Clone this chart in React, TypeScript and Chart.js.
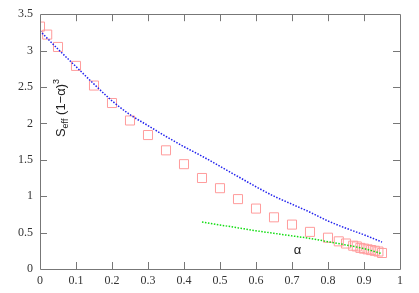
import React, { useEffect, useRef } from "react";
import { Chart, registerables } from "chart.js";

Chart.register(...registerables);

const simAlpha = [0, 0.02, 0.05, 0.1, 0.15, 0.2, 0.25, 0.3, 0.35, 0.4, 0.45, 0.5, 0.55, 0.6, 0.65, 0.7, 0.75, 0.8, 0.83, 0.85, 0.87, 0.88, 0.89, 0.9, 0.91, 0.92, 0.93, 0.94, 0.95];
const simValues = [3.33, 3.22, 3.05, 2.79, 2.52, 2.28, 2.04, 1.84, 1.63, 1.44, 1.25, 1.11, 0.96, 0.83, 0.71, 0.61, 0.51, 0.43, 0.38, 0.35, 0.32, 0.31, 0.29, 0.28, 0.27, 0.26, 0.25, 0.24, 0.22];

const blueAlpha = [0, 0.05, 0.1, 0.15, 0.2, 0.25, 0.3, 0.35, 0.4, 0.45, 0.5, 0.55, 0.6, 0.65, 0.7, 0.75, 0.8, 0.85, 0.9, 0.95];
const blueValues = [3.27, 3.02, 2.78, 2.54, 2.31, 2.12, 1.97, 1.82, 1.68, 1.55, 1.41, 1.27, 1.13, 1.0, 0.89, 0.78, 0.66, 0.56, 0.47, 0.37];

const greenAlpha = [0.45, 0.5, 0.55, 0.6, 0.65, 0.7, 0.75, 0.8, 0.85, 0.9, 0.95];
const greenValues = [0.645, 0.605, 0.565, 0.525, 0.49, 0.455, 0.42, 0.375, 0.33, 0.28, 0.21];

const xTicks = [0, 0.1, 0.2, 0.3, 0.4, 0.5, 0.6, 0.7, 0.8, 0.9, 1];
const yTicks = [0, 0.5, 1, 1.5, 2, 2.5, 3, 3.5];

const SERIF = "'Liberation Serif', 'Times New Roman', 'DejaVu Serif', serif";
const SANS = "'Liberation Sans', Arial, sans-serif";

const frame = {
  id: "frame",
  afterDraw(chart: any) {
    const { ctx, chartArea: a, scales } = chart;
    const xs = scales.x, ys = scales.y;
    ctx.save();
    ctx.strokeStyle = "#777";
    ctx.lineWidth = 1;
    ctx.beginPath();
    ctx.rect(Math.round(a.left) + 0.5, Math.round(a.top) + 0.5, Math.round(a.right - a.left), Math.round(a.bottom - a.top));
    ctx.stroke();
    const tl = 7;
    ctx.beginPath();
    xTicks.forEach((v, i) => {
      if (i === 0 || i === xTicks.length - 1) return;
      const px = Math.round(xs.getPixelForValue(v)) + 0.5;
      ctx.moveTo(px, a.bottom);
      ctx.lineTo(px, a.bottom - tl);
      ctx.moveTo(px, a.top);
      ctx.lineTo(px, a.top + tl);
    });
    yTicks.forEach((v, i) => {
      if (i === 0 || i === yTicks.length - 1) return;
      const py = Math.round(ys.getPixelForValue(v)) + 0.5;
      ctx.moveTo(a.left, py);
      ctx.lineTo(a.left + tl, py);
      ctx.moveTo(a.right, py);
      ctx.lineTo(a.right - tl, py);
    });
    ctx.stroke();

    // axis labels inside plot
    ctx.fillStyle = "#222";
    ctx.textBaseline = "alphabetic";
    ctx.font = "13px " + SANS;
    ctx.textAlign = "center";
    ctx.fillText("α", xs.getPixelForValue(0.715), ys.getPixelForValue(0.21));

    ctx.translate(65, 108);
    ctx.rotate(-Math.PI / 2);
    const big = "13px " + SANS;
    const small = "9px " + SANS;
    const parts: [string, string, number][] = [
      ["S", big, 0],
      ["eff", small, 3],
      [" (1\u2212α)", big, 0],
      ["3", small, -6],
    ];
    let w = 0;
    parts.forEach(([t, f]) => { ctx.font = f; w += ctx.measureText(t).width; });
    let x = -w / 2;
    ctx.textAlign = "left";
    parts.forEach(([t, f, dy]) => {
      ctx.font = f;
      ctx.fillText(t, x, dy);
      x += ctx.measureText(t).width;
    });
    ctx.restore();
  },
};

export default function App() {
  const ref = useRef<HTMLCanvasElement>(null);
  useEffect(() => {
    const tickFont = { family: SERIF, size: 12 };
    const chart = new Chart(ref.current!, {
      type: "scatter",
      data: {
        datasets: [
          {
            data: blueAlpha.map((x, i) => ({ x, y: blueValues[i] })),
            showLine: true,
            borderColor: "#2222ee",
            borderWidth: 1.5,
            borderDash: [1.5, 1.5],
            pointRadius: 0,
            cubicInterpolationMode: "monotone",
          },
          {
            data: greenAlpha.map((x, i) => ({ x, y: greenValues[i] })),
            showLine: true,
            borderColor: "#11dd11",
            borderWidth: 1.5,
            borderDash: [1.5, 1.5],
            pointRadius: 0,
            cubicInterpolationMode: "monotone",
          },
          {
            data: simAlpha.map((x, i) => ({ x, y: simValues[i] })),
            showLine: false,
            pointStyle: "rect",
            pointRadius: 6.4,
            borderColor: "#ff9c9c",
            backgroundColor: "rgba(0,0,0,0)",
            borderWidth: 1,
          },
        ],
      },
      options: {
        animation: false,
        responsive: false,
        events: [],
        layout: { padding: { left: 0, right: 19, top: 14, bottom: 0 } },
        plugins: { legend: { display: false }, tooltip: { enabled: false } },
        scales: {
          x: {
            type: "linear",
            min: 0,
            max: 1,
            afterFit: (s: any) => { s.height = 24; },
            afterBuildTicks: (s: any) => { s.ticks = xTicks.map((v) => ({ value: v })); },
            grid: { display: false, drawTicks: false },
            border: { display: false },
            ticks: { font: tickFont, color: "#333", padding: 5, maxRotation: 0, callback: (v: any) => String(v) },
          },
          y: {
            type: "linear",
            min: 0,
            max: 3.5,
            afterFit: (s: any) => { s.width = 40; },
            afterBuildTicks: (s: any) => { s.ticks = yTicks.map((v) => ({ value: v })); },
            grid: { display: false, drawTicks: false },
            border: { display: false },
            ticks: { font: tickFont, color: "#333", padding: 7, callback: (v: any) => String(v) },
          },
        },
      },
      plugins: [frame],
    });
    return () => chart.destroy();
  }, []);
  return (
    <div style={{ position: "absolute", left: 0, top: 0, width: 419, height: 293, background: "#fff" }}>
      <canvas ref={ref} width={419} height={293} style={{ display: "block" }} />
    </div>
  );
}
